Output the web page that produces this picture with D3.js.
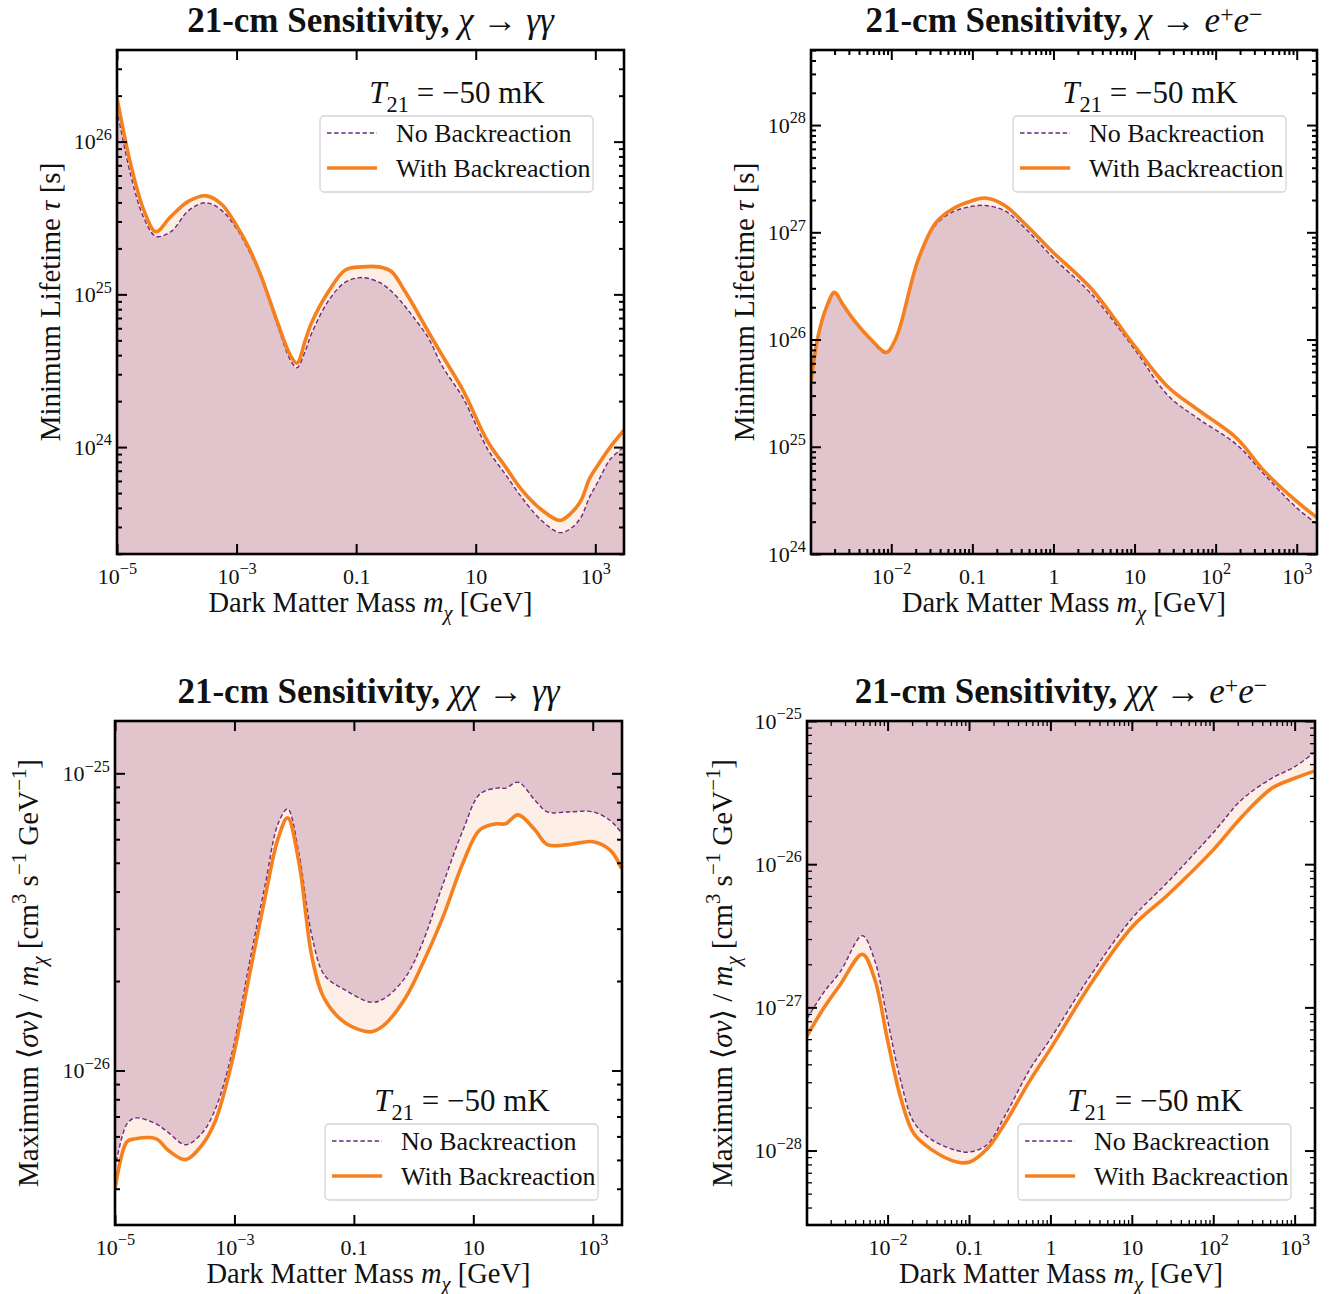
<!DOCTYPE html>
<html>
<head>
<meta charset="utf-8">
<script src="https://d3js.org/d3.v7.min.js"></script>
<style>
  body { margin: 0; background: #fff; }
  svg text { font-family: "Liberation Serif", "DejaVu Serif", serif; fill: #111; }
  .frame { fill: none; stroke: #000; stroke-width: 2.6; }
  .axis path { display: none; }
  .axis line { stroke: #000; }
</style>
<title>21-cm sensitivity</title>
</head>
<body>
<div id="chart"></div>
<script>
// ---- data as log10 values ----
// chi -> gamma gamma, log10(m / GeV) and log10(tau / s)
var decGGMass   = [-5, -4.77, -4.55, -4.35, -4.1, -3.8, -3.51, -3.25, -3.0, -2.8, -2.59, -2.31, -2.1, -1.99, -1.85, -1.75, -1.46, -1.18, -0.9, -0.62, -0.41, -0.2, -0.06, 0.2, 0.44, 0.79, 1.21, 1.5, 1.77, 2.1, 2.41, 2.6, 2.76, 2.9, 3.04, 3.25, 3.48];
var decGGNoBR   = [26.21, 25.78, 25.50, 25.38, 25.41, 25.55, 25.60, 25.55, 25.43, 25.29, 25.11, 24.79, 24.57, 24.52, 24.63, 24.74, 24.96, 25.08, 25.11, 25.08, 25.02, 24.93, 24.86, 24.72, 24.53, 24.32, 23.98, 23.82, 23.67, 23.52, 23.44, 23.47, 23.54, 23.67, 23.77, 23.92, 24.0];
var decGGWithBR = [26.285, 25.85, 25.55, 25.41, 25.51, 25.61, 25.645, 25.59, 25.45, 25.31, 25.12, 24.81, 24.60, 24.55, 24.70, 24.81, 25.02, 25.16, 25.18, 25.18, 25.15, 25.03, 24.94, 24.76, 24.60, 24.37, 24.03, 23.87, 23.72, 23.59, 23.52, 23.57, 23.65, 23.79, 23.88, 24.0, 24.11];

// chi -> e+ e-
var decEEMass   = [-2.99, -2.9, -2.8, -2.7, -2.6, -2.46, -2.25, -2.06, -1.95, -1.88, -1.67, -1.45, -1.24, -1.02, -0.84, -0.6, -0.34, 0, 0.46, 1, 1.41, 1.79, 2.26, 2.59, 3.0, 3.25];
var decEENoBR   = [25.58, 26.02, 26.29, 26.43, 26.32, 26.17, 25.99, 25.87, 25.99, 26.14, 26.73, 27.07, 27.19, 27.24, 27.25, 27.20, 27.03, 26.76, 26.43, 25.91, 25.48, 25.26, 25.02, 24.75, 24.43, 24.28];
var decEEWithBR = [25.61, 26.04, 26.30, 26.44, 26.33, 26.18, 26.0, 25.88, 26.0, 26.15, 26.74, 27.09, 27.22, 27.29, 27.32, 27.25, 27.07, 26.81, 26.48, 25.94, 25.56, 25.34, 25.08, 24.78, 24.49, 24.34];

// chi chi -> gamma gamma, log10(<sigma v>/m / cm^3 s^-1 GeV^-1)
var annGGMass   = [-5, -4.8, -4.66, -4.31, -4.1, -3.82, -3.54, -3.32, -3.04, -2.76, -2.48, -2.27, -2.11, -1.92, -1.7, -1.49, -1.14, -0.72, -0.51, -0.15, 0.13, 0.48, 0.83, 1.11, 1.39, 1.54, 1.75, 2.03, 2.24, 2.59, 3.01, 3.3, 3.48];
var annGGNoBR   = [-26.33, -26.18, -26.16, -26.18, -26.21, -26.25, -26.21, -26.13, -25.94, -25.65, -25.37, -25.17, -25.12, -25.27, -25.55, -25.68, -25.73, -25.77, -25.76, -25.69, -25.58, -25.38, -25.19, -25.07, -25.05, -25.05, -25.03, -25.09, -25.13, -25.13, -25.13, -25.16, -25.20];
var annGGWithBR = [-26.40, -26.24, -26.23, -26.23, -26.27, -26.30, -26.25, -26.17, -25.97, -25.69, -25.41, -25.22, -25.15, -25.30, -25.62, -25.76, -25.84, -25.87, -25.85, -25.76, -25.65, -25.49, -25.30, -25.19, -25.17, -25.17, -25.14, -25.19, -25.24, -25.24, -25.23, -25.26, -25.32];

// chi chi -> e+ e-
var annEEMass   = [-2.99, -2.79, -2.58, -2.31, -2.16, -2.0, -1.84, -1.68, -1.47, -1.15, -0.99, -0.78, -0.57, -0.25, 0, 0.49, 1, 1.45, 2, 2.35, 2.72, 3.0, 3.24];
var annEENoBR   = [-27.08, -26.90, -26.75, -26.50, -26.67, -27.09, -27.51, -27.80, -27.92, -28.00, -28.01, -27.96, -27.77, -27.43, -27.22, -26.78, -26.38, -26.12, -25.78, -25.55, -25.40, -25.32, -25.22];
var annEEWithBR = [-27.20, -27.01, -26.84, -26.63, -26.80, -27.23, -27.63, -27.88, -27.99, -28.08, -28.08, -27.99, -27.82, -27.51, -27.29, -26.84, -26.44, -26.21, -25.90, -25.67, -25.47, -25.40, -25.35];

// tick values and labels
var xTicksWide       = [1e-5, 1e-3, 0.1, 10, 1e3];
var xTickLabelsWide  = ["10^-5", "10^-3", "0.1", "10", "10^3"];
var xTicksNarrow     = [1e-2, 0.1, 1, 10, 1e2, 1e3];
var xTickLabelsNarrow = ["10^-2", "0.1", "1", "10", "10^2", "10^3"];
var yTicksDecGG = [1e24, 1e25, 1e26];
var yTicksDecEE = [1e24, 1e25, 1e26, 1e27, 1e28];
var yTicksAnnGG = [1e-26, 1e-25];
var yTicksAnnEE = [1e-28, 1e-27, 1e-26, 1e-25];

var legendLabels = ["No Backreaction", "With Backreaction"];

var cMauve = "#e2c5cc", cPeach = "#fdefe6", cOrange = "#f5801f", cPurple = "#6e2a7e";

var svg = d3.select("#chart").append("svg")
    .attr("width", 1337)
    .attr("height", 1294);

// rich text: parts with italic / bold / sup / sub
function rich(sel, parts, fs, supScale, supShift) {
  var shift = 0, sc = supScale || 0.72, up = supShift || 0.42;
  parts.forEach(function(p) {
    var t = sel.append("tspan").text(p.t);
    var target = p.sup ? -up * fs : (p.sub ? 0.28 * fs : 0);
    if (target !== shift) { t.attr("dy", target - shift); shift = target; }
    if (p.sup || p.sub) t.attr("font-size", sc * fs);
    if (p.i) t.attr("font-style", "italic");
    if (p.b) t.attr("font-weight", "bold");
  });
}

function tickParts(lab) {
  if (lab.indexOf("^") < 0) return [{t: lab}];
  var s = lab.split("^");
  return [{t: s[0]}, {t: s[1].replace("-", "\u2212"), sup: true}];
}

function toLog(v) { return Math.log10(v); }

function minorVals(dom) {
  var out = [];
  for (var k = Math.floor(dom[0]); k <= Math.ceil(dom[1]); k++) {
    for (var j = 2; j <= 9; j++) {
      var v = j * Math.pow(10, k), lv = toLog(v);
      if (lv >= dom[0] && lv <= dom[1]) out.push(v);
    }
  }
  return out;
}

var xLabelParts = [{t: "Dark Matter Mass "}, {t: "m", i: true}, {t: "\u03c7", i: true, sub: true}, {t: " [GeV]"}];
var tauLabelParts = [{t: "Minimum Lifetime "}, {t: "\u03c4", i: true}, {t: " [s]"}];
var sigLabelParts = [{t: "Maximum \u27e8"}, {t: "\u03c3v", i: true}, {t: "\u27e9 / "}, {t: "m", i: true}, {t: "\u03c7", i: true, sub: true},
  {t: " [cm"}, {t: "3", sup: true}, {t: " s"}, {t: "\u22121", sup: true}, {t: " GeV"}, {t: "\u22121", sup: true}, {t: "]"}];

function titleParts(initial, products) {
  var parts = [{t: "21-cm Sensitivity, ", b: true}, {t: initial, i: true}, {t: " \u2192 "}];
  return parts.concat(products);
}
var toPhotons = [{t: "\u03b3\u03b3", i: true}];
var toPairs = [{t: "e", i: true}, {t: "+", sup: true}, {t: "e", i: true}, {t: "\u2212", sup: true}];

var panels = [
  { box: [117, 50, 624, 554], xDom: [-5, 3.48], yDom: [23.3, 26.6],
    m: decGGMass, no: decGGNoBR, wi: decGGWithBR, decay: true,
    title: titleParts("\u03c7", toPhotons),
    ylab: tauLabelParts, ylabX: 67,
    xt: xTicksWide, xl: xTickLabelsWide, xMinor: false, yt: yTicksDecGG },
  { box: [811, 50, 1317, 554], xDom: [-2.99, 3.25], yDom: [24, 28.7],
    m: decEEMass, no: decEENoBR, wi: decEEWithBR, decay: true,
    title: titleParts("\u03c7", toPairs),
    ylab: tauLabelParts, ylabX: 67,
    xt: xTicksNarrow, xl: xTickLabelsNarrow, xMinor: true, yt: yTicksDecEE },
  { box: [115, 721, 622, 1225], xDom: [-5, 3.49], yDom: [-26.52, -24.824],
    m: annGGMass, no: annGGNoBR, wi: annGGWithBR, decay: false,
    title: titleParts("\u03c7\u03c7", toPhotons),
    ylab: sigLabelParts, ylabX: 87,
    xt: xTicksWide, xl: xTickLabelsWide, xMinor: false, yt: yTicksAnnGG },
  { box: [807, 721, 1315, 1225], xDom: [-2.99, 3.25], yDom: [-28.52, -25],
    m: annEEMass, no: annEENoBR, wi: annEEWithBR, decay: false,
    title: titleParts("\u03c7\u03c7", toPairs),
    ylab: sigLabelParts, ylabX: 85,
    xt: xTicksNarrow, xl: xTickLabelsNarrow, xMinor: true, yt: yTicksAnnEE }
];

panels.forEach(function(p, pi) {
  var x0 = p.box[0], y0 = p.box[1], x1 = p.box[2], y1 = p.box[3];
  var x = d3.scaleLog().domain([Math.pow(10, p.xDom[0]), Math.pow(10, p.xDom[1])]).range([x0, x1]);
  var y = d3.scaleLog().domain([Math.pow(10, p.yDom[0]), Math.pow(10, p.yDom[1])]).range([y1, y0]);

  var pts = p.m.map(function(lm, i) {
    return { m: Math.pow(10, lm), no: Math.pow(10, p.no[i]), wi: Math.pow(10, p.wi[i]) };
  });

  var clipId = "clip" + pi;
  svg.append("clipPath").attr("id", clipId)
    .append("rect").attr("x", x0).attr("y", y0).attr("width", x1 - x0).attr("height", y1 - y0);

  var g = svg.append("g").attr("clip-path", "url(#" + clipId + ")");
  var curve = d3.curveCatmullRom.alpha(0.5);

  // excluded region
  var mauve = d3.area().curve(curve).x(function(d) { return x(d.m); })
    .y0(p.decay ? y1 : y0).y1(function(d) { return y(d.no); });
  var band = d3.area().curve(curve).x(function(d) { return x(d.m); })
    .y0(function(d) { return y(d.no); }).y1(function(d) { return y(d.wi); });
  g.append("path").attr("d", mauve(pts)).attr("fill", cMauve);
  g.append("path").attr("d", band(pts)).attr("fill", cPeach);

  var lineNo = d3.line().curve(curve).x(function(d) { return x(d.m); }).y(function(d) { return y(d.no); });
  var lineWi = d3.line().curve(curve).x(function(d) { return x(d.m); }).y(function(d) { return y(d.wi); });
  g.append("path").attr("d", lineNo(pts)).attr("fill", "none")
    .attr("stroke", cPurple).attr("stroke-width", 1.4).attr("stroke-dasharray", "4.5,2.6");
  g.append("path").attr("d", lineWi(pts)).attr("fill", "none")
    .attr("stroke", cOrange).attr("stroke-width", 3.6).attr("stroke-linejoin", "round");

  // ticks: major
  var bottom = svg.append("g").attr("class", "axis").attr("transform", "translate(0," + y1 + ")")
    .call(d3.axisBottom(x).tickValues(p.xt).tickSizeInner(-10).tickSizeOuter(0).tickPadding(14)
      .tickFormat(function(d, i) { return p.xl[i]; }));
  bottom.attr("font-size", 22).attr("font-family", null);
  bottom.selectAll("text").each(function() {
    var s = d3.select(this), lab = s.text();
    s.text(null);
    rich(s, tickParts(lab), 22, 0.74);
  });

  var left = svg.append("g").attr("class", "axis").attr("transform", "translate(" + x0 + ",0)")
    .call(d3.axisLeft(y).tickValues(p.yt).tickSizeInner(-10).tickSizeOuter(0).tickPadding(5)
      .tickFormat(function(d) { return "10^" + Math.round(toLog(d)); }));
  left.attr("font-size", 22).attr("font-family", null);
  left.selectAll("text").each(function() {
    var s = d3.select(this), lab = s.text();
    s.text(null);
    rich(s, tickParts(lab), 22, 0.74);
  });

  svg.append("g").attr("class", "axis").attr("transform", "translate(0," + y0 + ")")
    .call(d3.axisTop(x).tickValues(p.xt).tickSizeInner(-10).tickSizeOuter(0).tickFormat(""));
  svg.append("g").attr("class", "axis").attr("transform", "translate(" + x1 + ",0)")
    .call(d3.axisRight(y).tickValues(p.yt).tickSizeInner(-10).tickSizeOuter(0).tickFormat(""));

  svg.selectAll(".axis line").attr("stroke-width", 2);

  // ticks: minor
  var yMin = minorVals(p.yDom);
  var minorAxes = [
    [d3.axisLeft(y).tickValues(yMin), "translate(" + x0 + ",0)"],
    [d3.axisRight(y).tickValues(yMin), "translate(" + x1 + ",0)"]
  ];
  if (p.xMinor) {
    var xMin = minorVals(p.xDom);
    minorAxes.push([d3.axisBottom(x).tickValues(xMin), "translate(0," + y1 + ")"]);
    minorAxes.push([d3.axisTop(x).tickValues(xMin), "translate(0," + y0 + ")"]);
  }
  minorAxes.forEach(function(a) {
    svg.append("g").attr("class", "axis minor").attr("transform", a[1])
      .call(a[0].tickSizeInner(-5).tickSizeOuter(0).tickFormat(""))
      .selectAll("line").attr("stroke-width", 1.3);
  });

  svg.append("rect").attr("class", "frame")
    .attr("x", x0).attr("y", y0).attr("width", x1 - x0).attr("height", y1 - y0);

  // title and axis labels
  var cx = (x0 + x1) / 2, cy = (y0 + y1) / 2;
  rich(svg.append("text").attr("x", cx).attr("y", y0 - 18).attr("text-anchor", "middle")
    .attr("font-size", 35), p.title, 35, 0.68, 0.3);
  rich(svg.append("text").attr("x", cx).attr("y", y1 + 58).attr("text-anchor", "middle")
    .attr("font-size", 28.5), xLabelParts, 28.5);
  rich(svg.append("text").attr("transform", "translate(" + (x0 - p.ylabX) + "," + cy + ") rotate(-90)")
    .attr("text-anchor", "middle").attr("font-size", 29).attr("dy", "0.35em"), p.ylab, 29);

  // legend
  var bx = p.decay ? x1 - 304 : x1 - 297;
  var by = p.decay ? y0 + 66 : y1 - 101;
  var lg = svg.append("g").attr("transform", "translate(" + bx + "," + by + ")");
  rich(lg.append("text").attr("x", 137).attr("y", -13).attr("text-anchor", "middle").attr("font-size", 31),
    [{t: "T", i: true}, {t: "21", sub: true}, {t: " = \u221250 mK"}], 31);
  lg.append("rect").attr("width", 273).attr("height", 76).attr("rx", 4)
    .attr("fill", "#fff").attr("fill-opacity", 0.8).attr("stroke", "#d4d4d4").attr("stroke-width", 1.3);
  lg.append("line").attr("x1", 7).attr("x2", 57).attr("y1", 17).attr("y2", 17)
    .attr("stroke", cPurple).attr("stroke-width", 1.4).attr("stroke-dasharray", "4.5,2.6");
  lg.append("line").attr("x1", 7).attr("x2", 57).attr("y1", 52).attr("y2", 52)
    .attr("stroke", cOrange).attr("stroke-width", 3.6);
  lg.append("text").attr("x", 76).attr("y", 26).attr("font-size", 26).text(legendLabels[0]);
  lg.append("text").attr("x", 76).attr("y", 61).attr("font-size", 26).text(legendLabels[1]);
});
</script>
</body>
</html>
